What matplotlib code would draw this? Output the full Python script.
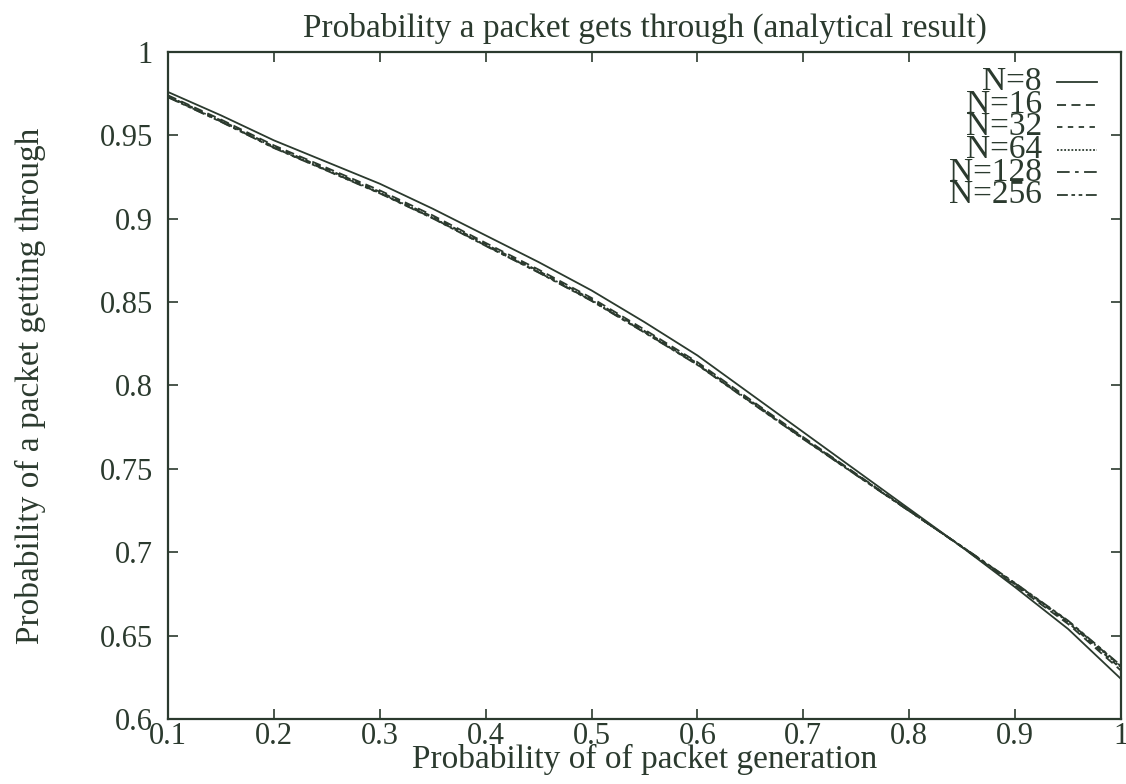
import matplotlib
matplotlib.use("Agg")
import matplotlib.pyplot as plt

# probability of packet generation
p_gen = [0.10, 0.15, 0.20, 0.25, 0.30, 0.35, 0.40, 0.45, 0.50, 0.55,
         0.60, 0.65, 0.70, 0.75, 0.80, 0.85, 0.90, 0.95, 1.00]

# probability a packet gets through
n8 = [0.976, 0.962, 0.947, 0.934, 0.921, 0.906, 0.890, 0.874, 0.857, 0.838,
      0.818, 0.795, 0.772, 0.749, 0.726, 0.703, 0.679, 0.654, 0.624]
n16 = [0.974, 0.9595, 0.944, 0.9305, 0.917, 0.902, 0.8855, 0.8695, 0.8525, 0.8335,
       0.814, 0.7915, 0.769, 0.747, 0.725, 0.703, 0.680, 0.657, 0.629]
n32 = [0.9735, 0.959, 0.9433, 0.9298, 0.9162, 0.9012, 0.8847, 0.8687, 0.8517, 0.8327,
       0.8133, 0.7909, 0.7685, 0.7467, 0.7249, 0.7031, 0.6806, 0.6578, 0.6302]
n64 = [0.9732, 0.9586, 0.9429, 0.9293, 0.9157, 0.9007, 0.8842, 0.8682, 0.8512, 0.8322,
       0.8128, 0.7905, 0.7682, 0.7465, 0.7248, 0.7032, 0.6810, 0.6583, 0.6310]
n128 = [0.9730, 0.9583, 0.9426, 0.9290, 0.9154, 0.9004, 0.8839, 0.8679, 0.8509, 0.8319,
        0.8125, 0.7902, 0.7680, 0.7463, 0.7247, 0.7033, 0.6813, 0.6587, 0.6316]
n256 = [0.9728, 0.9581, 0.9424, 0.9288, 0.9152, 0.9002, 0.8837, 0.8677, 0.8507, 0.8317,
        0.8123, 0.7900, 0.7678, 0.7462, 0.7247, 0.7034, 0.6815, 0.6590, 0.6320]

series = [n8, n16, n32, n64, n128, n256]
labels = ["N=8", "N=16", "N=32", "N=64", "N=128", "N=256"]
dashes = ["-", (0, (5, 3)), (0, (3, 3)), (0, (1, 1)),
          (0, (7, 3, 2, 3)), (0, (6, 2, 2, 2, 2, 2))]

x_ticks = [0.1, 0.2, 0.3, 0.4, 0.5, 0.6, 0.7, 0.8, 0.9, 1.0]
x_tick_labels = ["0.1", "0.2", "0.3", "0.4", "0.5", "0.6", "0.7", "0.8", "0.9", "1"]
y_ticks = [0.6, 0.65, 0.7, 0.75, 0.8, 0.85, 0.9, 0.95, 1.0]
y_tick_labels = ["0.6", "0.65", "0.7", "0.75", "0.8", "0.85", "0.9", "0.95", "1"]

ink = "#2b3a2e"
plt.rcParams["font.family"] = ["Liberation Serif", "DejaVu Serif"]

fig = plt.figure(figsize=(11.26, 7.84), dpi=100)
ax = fig.add_axes([0.1492, 0.0829, 0.8464, 0.8508])

for vals, ls in zip(series, dashes):
    ax.plot(p_gen, vals, color=ink, lw=1.3, linestyle=ls)

ax.set_xlim(0.1, 1.0)
ax.set_ylim(0.6, 1.0)
ax.set_xticks(x_ticks)
ax.set_xticklabels(x_tick_labels)
ax.set_yticks(y_ticks)
ax.set_yticklabels(y_tick_labels)
ax.tick_params(direction="in", length=7, width=1.2, top=True, right=True,
               labelsize=22, colors=ink)
ax.tick_params(axis="x", pad=2)
ax.tick_params(axis="y", pad=11)
for sp in ax.spines.values():
    sp.set_linewidth(1.6)
    sp.set_color(ink)

ax.set_title("Probability a packet gets through (analytical result)",
             fontsize=24, color=ink, pad=11)
ax.set_xlabel("Probability of of packet generation", fontsize=24, color=ink)
ax.xaxis.set_label_coords(0.5, -0.038)
ax.set_ylabel("Probability of a packet getting through", fontsize=24, color=ink)
ax.yaxis.set_label_coords(-0.128, 0.5)

# legend, gnuplot style: right aligned text with overlapping rows
for i, (lab, ls) in enumerate(zip(labels, dashes)):
    y = 0.955 - i * 0.0339
    ax.text(0.917, y, lab, transform=ax.transAxes, ha="right", va="center",
            fontsize=24, color=ink)
    ax.plot([0.933, 0.975], [y, y], transform=ax.transAxes, color=ink,
            lw=1.3, linestyle=ls)

fig.savefig("out.png", dpi=100)
